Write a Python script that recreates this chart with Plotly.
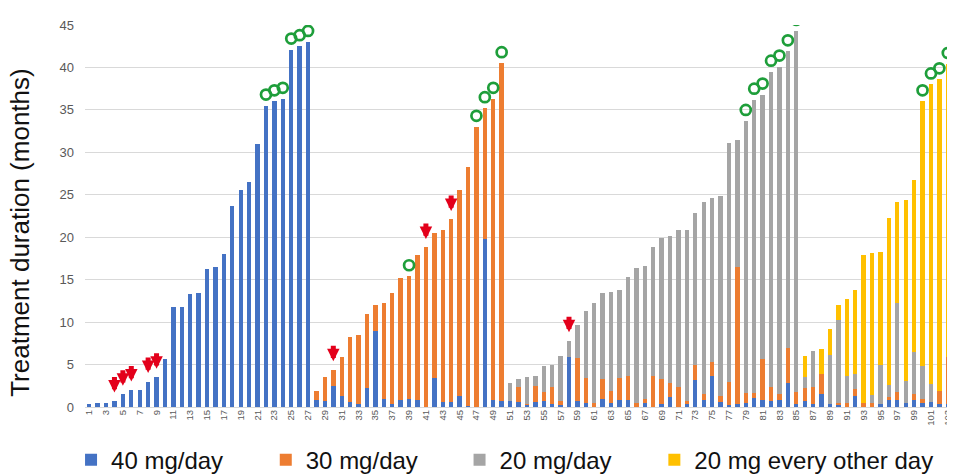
import plotly.graph_objects as go

patients = list(range(1, 104))

# segment heights (months) per patient, stacked bottom -> top
blue = [0.3, 0.5, 0.5, 0.7, 1.5, 2.0, 2.0, 3.0, 3.5, 5.6,
        11.8, 11.8, 13.3, 13.4, 16.3, 16.5, 18.0, 23.7, 25.6, 26.5,
        31.0, 35.5, 36.0, 36.3, 42.1, 42.5, 43.0,
        # 28-50
        0.85, 0.75, 2.5, 1.3, 0.6, 0.3, 2.2, 8.9, 0.9, 0.3,
        0.85, 0.9, 0.85, 0.0, 3.4, 0.6, 0.6, 1.3, 0.1, 0.0,
        19.8, 0.85, 0.7,
        # 51-85
        0.7, 0.6, 0.3, 0.55, 0.7, 0.3, 0.2, 5.9, 0.7, 0.45,
        0.0, 1.0, 0.45, 0.85, 0.85, 0.0, 0.45, 0.0, 0.3, 1.15,
        0.0, 0.3, 3.2, 0.8, 3.6, 0.6, 0.2, 0.4, 0.45, 1.1,
        0.85, 0.75, 0.8, 2.85, 0.35,
        # 86-103
        0.65, 0.4, 1.55, 0.35, 0.3, 0.0, 1.3, 0.0, 0.0, 0.4,
        0.85, 0.85, 0.5, 0.85, 0.45, 0.6, 0.35, 0.3]

orange = [0.0] * 27 + [
        1.05, 2.75, 1.9, 4.6, 7.7, 8.2, 8.7, 3.1, 11.4, 13.1,
        14.4, 14.5, 17.05, 18.8, 17.1, 20.3, 21.5, 24.3, 28.2, 33.0,
        15.4, 35.45, 39.8,
        # 51-85
        0.0, 1.8, 0.1, 1.95, 1.1, 2.0, 0.45, 0.0, 5.1, 2.95,
        0.5, 2.3, 1.4, 2.55, 2.75, 0.45, 0.45, 3.6, 3.0, 1.65,
        2.4, 0.35, 1.7, 0.75, 1.7, 0.7, 2.7, 16.1, 1.25, 0.6,
        4.75, 1.55, 0.75, 4.15, 1.45,
        # 86-103
        1.6, 2.0, 2.3, 0.0, 0.2, 0.5, 0.8, 0.45, 0.45, 0.0,
        0.3, 0.95, 0.0, 0.65, 0.45, 0.0, 1.55, 5.6]

gray = [0.0] * 50 + [
        2.1, 0.9, 3.15, 1.1, 3.0, 2.6, 5.3, 1.9, 3.85, 7.9,
        11.7, 10.1, 11.65, 10.35, 11.7, 15.95, 15.7, 15.2, 16.6, 17.3,
        18.4, 20.2, 18.0, 22.55, 19.3, 23.6, 28.2, 14.9, 32.0, 34.5,
        31.2, 37.2, 38.55, 34.9, 42.5,
        # 86-103
        1.3, 4.2, 0.0, 5.8, 9.8, 3.1, 1.8, 0.0, 0.95, 4.55,
        1.5, 10.4, 2.6, 4.95, 3.9, 2.1, 0.0, 0.0]

yellow = [0.0] * 85 + [
        2.4, 0.0, 2.95, 3.0, 1.75, 9.1, 9.85, 17.45, 16.8, 13.35,
        19.65, 12.0, 21.25, 20.35, 31.2, 35.3, 36.7, 34.5]

series_names = ["40 mg/day", "30 mg/day", "20 mg/day", "20 mg every other day"]
series_values = [blue, orange, gray, yellow]
series_colors = ["#4472C4", "#ED7D31", "#A5A5A5", "#FFC000"]

arrow_patients = [4, 5, 6, 8, 9, 30, 41, 44, 58]
circle_patients = [22, 23, 24, 25, 26, 27, 39, 47, 48, 49, 50,
                   79, 80, 81, 82, 83, 84, 85, 100, 101, 102, 103]

tick_patients = list(range(1, 104, 2))
tick_labels = [str(p) for p in tick_patients]
y_ticks = list(range(0, 46, 5))
y_title = "Treatment duration (months)"

totals = [b + o + g + y for b, o, g, y in zip(blue, orange, gray, yellow)]

FONT = "Liberation Sans, Arial, sans-serif"
legend_ids = ["legend", "legend2", "legend3", "legend4"]
legend_x = [-0.0161, 0.2085, 0.432, 0.6567]

fig = go.Figure()
for name, vals, col, lid in zip(series_names, series_values, series_colors, legend_ids):
    fig.add_trace(go.Bar(x=patients, y=vals, name=name, marker_color=col,
                         marker_line_width=0, legend=lid))

fig.add_trace(go.Scatter(
    x=circle_patients,
    y=[totals[p - 1] + 1.3 for p in circle_patients],
    mode="markers", showlegend=False, hoverinfo="skip",
    marker=dict(symbol="circle-open", size=10, color="#1E9E3A",
                line=dict(width=2.7, color="#1E9E3A"))))

for p in arrow_patients:
    fig.add_annotation(x=p, y=totals[p - 1] + 1.0, text="", showarrow=True,
                       ax=0, ay=-17, arrowhead=2, arrowsize=0.5, arrowwidth=5,
                       arrowcolor="#E3001B", standoff=0, startstandoff=0)

fig.add_annotation(text=y_title, xref="paper", yref="paper", x=0, y=0.456,
                   xanchor="center", yanchor="middle", xshift=-65, textangle=-90,
                   showarrow=False, font=dict(size=26, color="#111111", family=FONT))

legend_common = dict(orientation="h", xanchor="left", y=-0.139, yanchor="middle",
                     font=dict(size=24, color="#111111", family=FONT),
                     itemwidth=30, bgcolor="rgba(0,0,0,0)")
layout_legends = {lid: dict(legend_common, x=lx) for lid, lx in zip(legend_ids, legend_x)}

fig.update_layout(
    width=955, height=490,
    margin=dict(l=77, r=10, t=11, b=91),
    barmode="stack", bargap=0.48,
    plot_bgcolor="white", paper_bgcolor="white",
    font=dict(family=FONT, color="#595959"),
    showlegend=True,
    xaxis=dict(range=[0.5, 103.5], tickmode="array", tickvals=tick_patients,
               ticktext=tick_labels, tickangle=-90, tickfont=dict(size=9.5, color="#595959"),
               showgrid=False, zeroline=False, showline=False, ticks="", fixedrange=True),
    yaxis=dict(range=[0, 45], tickmode="array", tickvals=y_ticks,
               tickfont=dict(size=13, color="#595959"),
               showgrid=True, gridcolor="#D9D9D9", gridwidth=1,
               zeroline=True, zerolinecolor="#D9D9D9", zerolinewidth=1,
               ticklabelstandoff=10),
    **layout_legends,
)

fig.write_html("out.html")
